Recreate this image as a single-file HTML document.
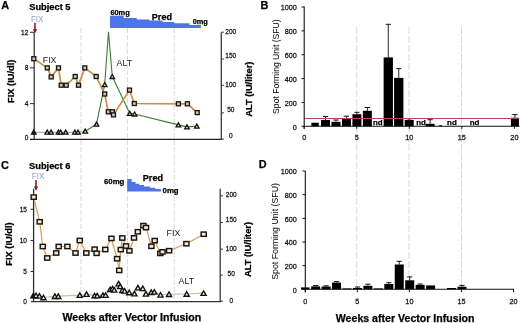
<!DOCTYPE html>
<html><head><meta charset="utf-8"><style>
html,body{margin:0;padding:0;background:#fff;}
body{width:520px;height:323px;overflow:hidden;font-family:"Liberation Sans",sans-serif;}
svg{display:block;filter:blur(0.3px);}
svg text{font-family:"Liberation Sans",sans-serif;}
</style></head><body>
<svg width="520" height="323" viewBox="0 0 520 323" font-family="Liberation Sans, sans-serif">
<rect width="520" height="323" fill="#fff"/>
<line x1="81" y1="28" x2="81" y2="301" stroke="#d9d9d9" stroke-width="1" stroke-dasharray="5,2"/>
<line x1="127.4" y1="28" x2="127.4" y2="301" stroke="#d9d9d9" stroke-width="1" stroke-dasharray="5,2"/>
<line x1="174.2" y1="28" x2="174.2" y2="301" stroke="#d9d9d9" stroke-width="1" stroke-dasharray="5,2"/>
<line x1="356.8" y1="27" x2="356.8" y2="289" stroke="#d9d9d9" stroke-width="1" stroke-dasharray="7,2"/>
<line x1="409.1" y1="27" x2="409.1" y2="289" stroke="#d9d9d9" stroke-width="1" stroke-dasharray="7,2"/>
<line x1="461.5" y1="27" x2="461.5" y2="289" stroke="#d9d9d9" stroke-width="1" stroke-dasharray="7,2"/>
<text x="1.3" y="8.9" font-size="10.9" font-weight="bold" text-anchor="start" fill="#000" stroke="#000" stroke-width="0.25" >A</text>
<text x="29.2" y="9.8" font-size="9.3" font-weight="bold" text-anchor="start" fill="#000" stroke="#000" stroke-width="0.25" >Subject 5</text>
<text x="30.9" y="21.8" font-size="8.9" font-weight="normal" text-anchor="start" fill="#8a9fd0" transform="translate(30.9,21.8) scale(0.9,1) translate(-30.9,-21.8)">FIX</text>
<path d="M110.0,27.9 L110,15.8 L123.7,15.8 L123.7,17.9 L136.7,17.9 L136.7,19.6 L149.2,19.6 L149.2,20.5 L162.5,20.5 L162.5,21.9 L174.4,21.9 L174.4,23.2 L189.5,23.2 L189.5,24.9 L200.9,24.9 L200.9,27.9 Z" fill="#4f73e8"/>
<text x="110.4" y="15.2" font-size="7.4" font-weight="bold" text-anchor="start" fill="#000" stroke="#000" stroke-width="0.25" >60mg</text>
<text x="151.8" y="20" font-size="9.1" font-weight="bold" text-anchor="start" fill="#000" stroke="#000" stroke-width="0.25" >Pred</text>
<text x="192.7" y="24.4" font-size="7.4" font-weight="bold" text-anchor="start" fill="#000" stroke="#000" stroke-width="0.25" >0mg</text>
<line x1="34.2" y1="32.2" x2="34.2" y2="139.6" stroke="#3a3a3a" stroke-width="1.3" />
<line x1="30" y1="139.4" x2="222" y2="139.4" stroke="#222" stroke-width="1.3" />
<line x1="221.3" y1="32.2" x2="221.3" y2="139.6" stroke="#3a3a3a" stroke-width="1.3" />
<line x1="30" y1="32.3" x2="34.2" y2="32.3" stroke="#3a3a3a" stroke-width="1.1" />
<text transform="translate(28.3,35.07) scale(0.84,1)" font-size="7.8" font-weight="normal" text-anchor="end" fill="#111" stroke="#111" stroke-width="0.25">12</text>
<line x1="30" y1="67.8" x2="34.2" y2="67.8" stroke="#3a3a3a" stroke-width="1.1" />
<text transform="translate(28.3,70.07) scale(0.84,1)" font-size="7.8" font-weight="normal" text-anchor="end" fill="#111" stroke="#111" stroke-width="0.25">8</text>
<line x1="30" y1="103.6" x2="34.2" y2="103.6" stroke="#3a3a3a" stroke-width="1.1" />
<text transform="translate(28.3,106.27) scale(0.84,1)" font-size="7.8" font-weight="normal" text-anchor="end" fill="#111" stroke="#111" stroke-width="0.25">4</text>
<text transform="translate(28.3,139.87) scale(0.84,1)" font-size="7.8" font-weight="normal" text-anchor="end" fill="#111" stroke="#111" stroke-width="0.25">0</text>
<line x1="221.3" y1="32.2" x2="223.8" y2="32.2" stroke="#3a3a3a" stroke-width="1.1" />
<text transform="translate(230.8,33.77) scale(0.84,1)" font-size="7.8" font-weight="normal" text-anchor="middle" fill="#111" stroke="#111" stroke-width="0.25">200</text>
<line x1="221.3" y1="59" x2="223.8" y2="59" stroke="#3a3a3a" stroke-width="1.1" />
<text transform="translate(230.8,57.97) scale(0.84,1)" font-size="7.8" font-weight="normal" text-anchor="middle" fill="#111" stroke="#111" stroke-width="0.25">150</text>
<line x1="221.3" y1="85.3" x2="223.8" y2="85.3" stroke="#3a3a3a" stroke-width="1.1" />
<text transform="translate(230.8,86.57) scale(0.84,1)" font-size="7.8" font-weight="normal" text-anchor="middle" fill="#111" stroke="#111" stroke-width="0.25">100</text>
<line x1="221.3" y1="112.8" x2="223.8" y2="112.8" stroke="#3a3a3a" stroke-width="1.1" />
<text transform="translate(230.8,111.77) scale(0.84,1)" font-size="7.8" font-weight="normal" text-anchor="middle" fill="#111" stroke="#111" stroke-width="0.25">50</text>
<line x1="221.3" y1="139.1" x2="223.8" y2="139.1" stroke="#3a3a3a" stroke-width="1.1" />
<text transform="translate(230.8,137.67) scale(0.84,1)" font-size="7.8" font-weight="normal" text-anchor="middle" fill="#111" stroke="#111" stroke-width="0.25">0</text>
<text transform="translate(14.1,81.3) rotate(-90)" x="0" y="0" font-size="9.3" font-weight="bold" text-anchor="middle" fill="#000" stroke="#000" stroke-width="0.25">FIX (IU/dl)</text>
<text transform="translate(251.6,89.2) rotate(-90)" x="0" y="0" font-size="9.3" font-weight="bold" text-anchor="middle" fill="#000" stroke="#000" stroke-width="0.25">ALT (IU/liter)</text>
<line x1="35" y1="22.8" x2="35" y2="31" stroke="#7a1626" stroke-width="1.5" />
<polygon points="32.9,29.2 37.2,29.2 35,33.2" fill="#7a1626"/>
<polyline fill="none" stroke="#8fb070" stroke-width="1.1" stroke-linejoin="round" points="33.8,132.2 47.2,132.2 51.1,132.2 58.5,132.2 60.6,132.2 65.7,132.2 74.9,132.2 78,132.2 85.2,131.2"/>
<polyline fill="none" stroke="#3f7a35" stroke-width="1.1" stroke-linejoin="round" points="85.2,131.2 96.5,124.2 104.7,84.7 108.5,32 112.3,76.5 129.8,113.4 134.6,114 178.4,124.9 187,126.9 196.8,126.2"/>
<polyline fill="none" stroke="#c98f45" stroke-width="1.7" stroke-linejoin="round" points="33.8,58.7 47.3,67.9 51.2,76.9 58.5,67.9 61.2,85.2 66.2,85.2 75.2,76.5 78.5,85.2 84.8,67.9 96.2,76.5 104.7,94 108.3,111.8 112.4,111.8 113.5,114.9 129.5,90.1 134.3,103.5 178.4,103.8 187.4,103.8 197.2,112.6"/>
<polygon points="33.8,130.18 36.1,134.22 31.5,134.22" fill="#222" stroke="#111" stroke-width="1.3" stroke-linejoin="miter"/>
<polygon points="47.2,130.18 49.5,134.22 44.9,134.22" fill="#e0ded0" stroke="#111" stroke-width="1.3" stroke-linejoin="miter"/>
<polygon points="51.1,130.18 53.4,134.22 48.8,134.22" fill="#e0ded0" stroke="#111" stroke-width="1.3" stroke-linejoin="miter"/>
<polygon points="58.5,130.18 60.8,134.22 56.2,134.22" fill="#e0ded0" stroke="#111" stroke-width="1.3" stroke-linejoin="miter"/>
<polygon points="60.6,130.18 62.9,134.22 58.3,134.22" fill="#e0ded0" stroke="#111" stroke-width="1.3" stroke-linejoin="miter"/>
<polygon points="65.7,130.18 68,134.22 63.4,134.22" fill="#e0ded0" stroke="#111" stroke-width="1.3" stroke-linejoin="miter"/>
<polygon points="74.9,130.18 77.2,134.22 72.6,134.22" fill="#e0ded0" stroke="#111" stroke-width="1.3" stroke-linejoin="miter"/>
<polygon points="78,130.18 80.3,134.22 75.7,134.22" fill="#e0ded0" stroke="#111" stroke-width="1.3" stroke-linejoin="miter"/>
<polygon points="85.2,129.18 87.5,133.22 82.9,133.22" fill="#e0ded0" stroke="#111" stroke-width="1.3" stroke-linejoin="miter"/>
<polygon points="96.5,122.18 98.8,126.22 94.2,126.22" fill="#e0ded0" stroke="#111" stroke-width="1.3" stroke-linejoin="miter"/>
<polygon points="104.7,82.68 107,86.72 102.4,86.72" fill="#e0ded0" stroke="#111" stroke-width="1.3" stroke-linejoin="miter"/>
<polygon points="112.3,74.48 114.6,78.52 110,78.52" fill="#e0ded0" stroke="#111" stroke-width="1.3" stroke-linejoin="miter"/>
<polygon points="129.8,111.38 132.1,115.42 127.5,115.42" fill="#e0ded0" stroke="#111" stroke-width="1.3" stroke-linejoin="miter"/>
<polygon points="134.6,111.98 136.9,116.02 132.3,116.02" fill="#e0ded0" stroke="#111" stroke-width="1.3" stroke-linejoin="miter"/>
<polygon points="178.4,122.88 180.7,126.92 176.1,126.92" fill="#e0ded0" stroke="#111" stroke-width="1.3" stroke-linejoin="miter"/>
<polygon points="187,124.88 189.3,128.92 184.7,128.92" fill="#e0ded0" stroke="#111" stroke-width="1.3" stroke-linejoin="miter"/>
<polygon points="196.8,124.18 199.1,128.22 194.5,128.22" fill="#e0ded0" stroke="#111" stroke-width="1.3" stroke-linejoin="miter"/>
<rect x="31.8" y="56.7" width="4" height="4" fill="#cdc2ae" stroke="#1a1410" stroke-width="1.3"/>
<rect x="45.3" y="65.9" width="4" height="4" fill="#cdc2ae" stroke="#1a1410" stroke-width="1.3"/>
<rect x="49.2" y="74.9" width="4" height="4" fill="#cdc2ae" stroke="#1a1410" stroke-width="1.3"/>
<rect x="56.5" y="65.9" width="4" height="4" fill="#cdc2ae" stroke="#1a1410" stroke-width="1.3"/>
<rect x="59.2" y="83.2" width="4" height="4" fill="#cdc2ae" stroke="#1a1410" stroke-width="1.3"/>
<rect x="64.2" y="83.2" width="4" height="4" fill="#cdc2ae" stroke="#1a1410" stroke-width="1.3"/>
<rect x="73.2" y="74.5" width="4" height="4" fill="#cdc2ae" stroke="#1a1410" stroke-width="1.3"/>
<rect x="76.5" y="83.2" width="4" height="4" fill="#cdc2ae" stroke="#1a1410" stroke-width="1.3"/>
<rect x="82.8" y="65.9" width="4" height="4" fill="#cdc2ae" stroke="#1a1410" stroke-width="1.3"/>
<rect x="94.2" y="74.5" width="4" height="4" fill="#cdc2ae" stroke="#1a1410" stroke-width="1.3"/>
<rect x="102.7" y="92" width="4" height="4" fill="#cdc2ae" stroke="#1a1410" stroke-width="1.3"/>
<rect x="106.3" y="109.8" width="4" height="4" fill="#cdc2ae" stroke="#1a1410" stroke-width="1.3"/>
<rect x="110.4" y="109.8" width="4" height="4" fill="#cdc2ae" stroke="#1a1410" stroke-width="1.3"/>
<rect x="111.5" y="112.9" width="4" height="4" fill="#cdc2ae" stroke="#1a1410" stroke-width="1.3"/>
<rect x="127.5" y="88.1" width="4" height="4" fill="#cdc2ae" stroke="#1a1410" stroke-width="1.3"/>
<rect x="132.3" y="101.5" width="4" height="4" fill="#cdc2ae" stroke="#1a1410" stroke-width="1.3"/>
<rect x="176.4" y="101.8" width="4" height="4" fill="#cdc2ae" stroke="#1a1410" stroke-width="1.3"/>
<rect x="185.4" y="101.8" width="4" height="4" fill="#cdc2ae" stroke="#1a1410" stroke-width="1.3"/>
<rect x="195.2" y="110.6" width="4" height="4" fill="#cdc2ae" stroke="#1a1410" stroke-width="1.3"/>
<text x="42.8" y="63.4" font-size="8.8" font-weight="normal" text-anchor="start" fill="#1a1a1a" >FIX</text>
<text x="116.6" y="65.5" font-size="8.8" font-weight="normal" text-anchor="start" fill="#1a1a1a" >ALT</text>
<text x="0.9" y="168.6" font-size="10.9" font-weight="bold" text-anchor="start" fill="#000" stroke="#000" stroke-width="0.25" >C</text>
<text x="29" y="169" font-size="9.3" font-weight="bold" text-anchor="start" fill="#000" stroke="#000" stroke-width="0.25" >Subject 6</text>
<text x="31.8" y="179.3" font-size="8.9" font-weight="normal" text-anchor="start" fill="#8a9fd0" transform="translate(31.8,179.3) scale(0.9,1) translate(-31.8,-179.3)">FIX</text>
<path d="M127.2,191.6 L127.2,178.9 L131.7,178.9 L131.7,182 L135.5,182 L135.5,183.8 L139.3,183.8 L139.3,185.1 L144,185.1 L144,186.4 L149.9,186.4 L149.9,187.7 L155.4,187.7 L155.4,188.9 L160.9,188.9 L160.9,191.6 Z" fill="#4f73e8"/>
<text x="104" y="183.8" font-size="7.8" font-weight="bold" text-anchor="start" fill="#000" stroke="#000" stroke-width="0.25" >60mg</text>
<text x="142.8" y="180.9" font-size="9.1" font-weight="bold" text-anchor="start" fill="#000" stroke="#000" stroke-width="0.25" >Pred</text>
<text x="162.6" y="192.8" font-size="7.8" font-weight="bold" text-anchor="start" fill="#000" stroke="#000" stroke-width="0.25" >0mg</text>
<line x1="33.6" y1="188.8" x2="33.6" y2="301.9" stroke="#2a2a3a" stroke-width="1.3" />
<line x1="31" y1="301.6" x2="221" y2="301.6" stroke="#333" stroke-width="1.3" />
<line x1="220.2" y1="188.8" x2="220.2" y2="301.9" stroke="#3a3a3a" stroke-width="1.3" />
<line x1="30.6" y1="209.3" x2="33.6" y2="209.3" stroke="#2a2a3a" stroke-width="1.1" />
<text transform="translate(27,211.77) scale(0.84,1)" font-size="7.8" font-weight="normal" text-anchor="end" fill="#111" stroke="#111" stroke-width="0.25">15</text>
<line x1="30.6" y1="240.5" x2="33.6" y2="240.5" stroke="#2a2a3a" stroke-width="1.1" />
<text transform="translate(27,243.17) scale(0.84,1)" font-size="7.8" font-weight="normal" text-anchor="end" fill="#111" stroke="#111" stroke-width="0.25">10</text>
<line x1="30.6" y1="271.5" x2="33.6" y2="271.5" stroke="#2a2a3a" stroke-width="1.1" />
<text transform="translate(27,274.27) scale(0.84,1)" font-size="7.8" font-weight="normal" text-anchor="end" fill="#111" stroke="#111" stroke-width="0.25">5</text>
<text transform="translate(27,303.67) scale(0.84,1)" font-size="7.8" font-weight="normal" text-anchor="end" fill="#111" stroke="#111" stroke-width="0.25">0</text>
<line x1="220.2" y1="195.8" x2="222.8" y2="195.8" stroke="#3a3a3a" stroke-width="1.1" />
<text transform="translate(231.2,197.37) scale(0.84,1)" font-size="7.8" font-weight="normal" text-anchor="middle" fill="#111" stroke="#111" stroke-width="0.25">200</text>
<line x1="220.2" y1="222.5" x2="222.8" y2="222.5" stroke="#3a3a3a" stroke-width="1.1" />
<text transform="translate(231.2,222.37) scale(0.84,1)" font-size="7.8" font-weight="normal" text-anchor="middle" fill="#111" stroke="#111" stroke-width="0.25">150</text>
<line x1="220.2" y1="249.2" x2="222.8" y2="249.2" stroke="#3a3a3a" stroke-width="1.1" />
<text transform="translate(231.2,250.97) scale(0.84,1)" font-size="7.8" font-weight="normal" text-anchor="middle" fill="#111" stroke="#111" stroke-width="0.25">100</text>
<line x1="220.2" y1="275.1" x2="222.8" y2="275.1" stroke="#3a3a3a" stroke-width="1.1" />
<text transform="translate(231.2,275.77) scale(0.84,1)" font-size="7.8" font-weight="normal" text-anchor="middle" fill="#111" stroke="#111" stroke-width="0.25">50</text>
<line x1="220.2" y1="301.2" x2="222.8" y2="301.2" stroke="#3a3a3a" stroke-width="1.1" />
<text transform="translate(231.2,302.97) scale(0.84,1)" font-size="7.8" font-weight="normal" text-anchor="middle" fill="#111" stroke="#111" stroke-width="0.25">0</text>
<text transform="translate(12.4,244) rotate(-90)" x="0" y="0" font-size="9.3" font-weight="bold" text-anchor="middle" fill="#000" stroke="#000" stroke-width="0.25">FIX (IU/dl)</text>
<text transform="translate(251.4,249.5) rotate(-90)" x="0" y="0" font-size="9.3" font-weight="bold" text-anchor="middle" fill="#000" stroke="#000" stroke-width="0.25">ALT (IU/liter)</text>
<line x1="36" y1="180" x2="36" y2="188.5" stroke="#7a1626" stroke-width="1.5" />
<polygon points="33.9,186.6 38.1,186.6 36,191" fill="#7a1626"/>
<polyline fill="none" stroke="#b4cc98" stroke-width="1.2" stroke-linejoin="round" points="33.4,295.5 36.1,295.5 39.4,295.9 43.5,297.5 54.9,296.2 58.3,296.2 79.8,295.1 86.5,294.1 94.6,295.6 97.2,295.6 102.9,295.1 105.6,295.1 110.2,289.4 112.5,288.7 114.2,289.8 118.6,283.6 120.2,286.4 122.3,290.2 124.6,290.8 129.2,292.5 134.4,293.6 137.9,287.6 142.8,288.4 145.9,293.8 151.2,292.2 154.3,291.9 160.5,294.8 169,294.2 186.7,294 203.6,293.1"/>
<polyline fill="none" stroke="#d6a050" stroke-width="1.2" stroke-linejoin="round" points="33.7,197.1 39.7,221.8 42.8,246.5 47.2,258 56.2,253 58.7,246.5 67.4,246.5 75.5,253 79.8,240.5 86.3,253 94.6,249.2 96.6,253.3 105.3,249.5 111.4,238.4 117.1,258.7 119.2,270.4 120.8,249.6 122.3,238 126,246 129.4,250.8 134,237.9 137.8,231.8 143.4,225.6 146,227.6 151.4,246.3 154.7,240.6 160.3,253.4 162.5,251.9 169.1,250.7 186.4,243.7 203.7,234.2"/>
<polygon points="33.4,293.21 36,297.79 30.8,297.79" fill="#222" stroke="#111" stroke-width="1.35" stroke-linejoin="miter"/>
<polygon points="36.1,293.21 38.7,297.79 33.5,297.79" fill="#eceadf" stroke="#111" stroke-width="1.35" stroke-linejoin="miter"/>
<polygon points="39.4,293.61 42,298.19 36.8,298.19" fill="#eceadf" stroke="#111" stroke-width="1.35" stroke-linejoin="miter"/>
<polygon points="43.5,295.21 46.1,299.79 40.9,299.79" fill="#eceadf" stroke="#111" stroke-width="1.35" stroke-linejoin="miter"/>
<polygon points="54.9,293.91 57.5,298.49 52.3,298.49" fill="#eceadf" stroke="#111" stroke-width="1.35" stroke-linejoin="miter"/>
<polygon points="58.3,293.91 60.9,298.49 55.7,298.49" fill="#eceadf" stroke="#111" stroke-width="1.35" stroke-linejoin="miter"/>
<polygon points="79.8,292.81 82.4,297.39 77.2,297.39" fill="#eceadf" stroke="#111" stroke-width="1.35" stroke-linejoin="miter"/>
<polygon points="86.5,291.81 89.1,296.39 83.9,296.39" fill="#eceadf" stroke="#111" stroke-width="1.35" stroke-linejoin="miter"/>
<polygon points="94.6,293.31 97.2,297.89 92,297.89" fill="#eceadf" stroke="#111" stroke-width="1.35" stroke-linejoin="miter"/>
<polygon points="97.2,293.31 99.8,297.89 94.6,297.89" fill="#eceadf" stroke="#111" stroke-width="1.35" stroke-linejoin="miter"/>
<polygon points="102.9,292.81 105.5,297.39 100.3,297.39" fill="#eceadf" stroke="#111" stroke-width="1.35" stroke-linejoin="miter"/>
<polygon points="105.6,292.81 108.2,297.39 103,297.39" fill="#eceadf" stroke="#111" stroke-width="1.35" stroke-linejoin="miter"/>
<polygon points="110.2,287.11 112.8,291.69 107.6,291.69" fill="#eceadf" stroke="#111" stroke-width="1.35" stroke-linejoin="miter"/>
<polygon points="112.5,286.41 115.1,290.99 109.9,290.99" fill="#eceadf" stroke="#111" stroke-width="1.35" stroke-linejoin="miter"/>
<polygon points="114.2,287.51 116.8,292.09 111.6,292.09" fill="#eceadf" stroke="#111" stroke-width="1.35" stroke-linejoin="miter"/>
<polygon points="118.6,281.31 121.2,285.89 116,285.89" fill="#eceadf" stroke="#111" stroke-width="1.35" stroke-linejoin="miter"/>
<polygon points="120.2,284.11 122.8,288.69 117.6,288.69" fill="#eceadf" stroke="#111" stroke-width="1.35" stroke-linejoin="miter"/>
<polygon points="122.3,287.91 124.9,292.49 119.7,292.49" fill="#eceadf" stroke="#111" stroke-width="1.35" stroke-linejoin="miter"/>
<polygon points="124.6,288.51 127.2,293.09 122,293.09" fill="#eceadf" stroke="#111" stroke-width="1.35" stroke-linejoin="miter"/>
<polygon points="129.2,290.21 131.8,294.79 126.6,294.79" fill="#eceadf" stroke="#111" stroke-width="1.35" stroke-linejoin="miter"/>
<polygon points="134.4,291.31 137,295.89 131.8,295.89" fill="#eceadf" stroke="#111" stroke-width="1.35" stroke-linejoin="miter"/>
<polygon points="137.9,285.31 140.5,289.89 135.3,289.89" fill="#eceadf" stroke="#111" stroke-width="1.35" stroke-linejoin="miter"/>
<polygon points="142.8,286.11 145.4,290.69 140.2,290.69" fill="#eceadf" stroke="#111" stroke-width="1.35" stroke-linejoin="miter"/>
<polygon points="145.9,291.51 148.5,296.09 143.3,296.09" fill="#eceadf" stroke="#111" stroke-width="1.35" stroke-linejoin="miter"/>
<polygon points="151.2,289.91 153.8,294.49 148.6,294.49" fill="#eceadf" stroke="#111" stroke-width="1.35" stroke-linejoin="miter"/>
<polygon points="154.3,289.61 156.9,294.19 151.7,294.19" fill="#eceadf" stroke="#111" stroke-width="1.35" stroke-linejoin="miter"/>
<polygon points="160.5,292.51 163.1,297.09 157.9,297.09" fill="#eceadf" stroke="#111" stroke-width="1.35" stroke-linejoin="miter"/>
<polygon points="169,291.91 171.6,296.49 166.4,296.49" fill="#eceadf" stroke="#111" stroke-width="1.35" stroke-linejoin="miter"/>
<polygon points="186.7,291.71 189.3,296.29 184.1,296.29" fill="#eceadf" stroke="#111" stroke-width="1.35" stroke-linejoin="miter"/>
<polygon points="203.6,290.81 206.2,295.39 201,295.39" fill="#eceadf" stroke="#111" stroke-width="1.35" stroke-linejoin="miter"/>
<rect x="31.15" y="194.95" width="5.1" height="4.3" fill="#f0ebe0" stroke="#1a1410" stroke-width="1.45"/>
<rect x="37.15" y="219.65" width="5.1" height="4.3" fill="#f0ebe0" stroke="#1a1410" stroke-width="1.45"/>
<rect x="40.25" y="244.35" width="5.1" height="4.3" fill="#f0ebe0" stroke="#1a1410" stroke-width="1.45"/>
<rect x="44.65" y="255.85" width="5.1" height="4.3" fill="#f0ebe0" stroke="#1a1410" stroke-width="1.45"/>
<rect x="53.65" y="250.85" width="5.1" height="4.3" fill="#f0ebe0" stroke="#1a1410" stroke-width="1.45"/>
<rect x="56.15" y="244.35" width="5.1" height="4.3" fill="#f0ebe0" stroke="#1a1410" stroke-width="1.45"/>
<rect x="64.85" y="244.35" width="5.1" height="4.3" fill="#f0ebe0" stroke="#1a1410" stroke-width="1.45"/>
<rect x="72.95" y="250.85" width="5.1" height="4.3" fill="#f0ebe0" stroke="#1a1410" stroke-width="1.45"/>
<rect x="77.25" y="238.35" width="5.1" height="4.3" fill="#f0ebe0" stroke="#1a1410" stroke-width="1.45"/>
<rect x="83.75" y="250.85" width="5.1" height="4.3" fill="#f0ebe0" stroke="#1a1410" stroke-width="1.45"/>
<rect x="92.05" y="247.05" width="5.1" height="4.3" fill="#f0ebe0" stroke="#1a1410" stroke-width="1.45"/>
<rect x="94.05" y="251.15" width="5.1" height="4.3" fill="#f0ebe0" stroke="#1a1410" stroke-width="1.45"/>
<rect x="102.75" y="247.35" width="5.1" height="4.3" fill="#f0ebe0" stroke="#1a1410" stroke-width="1.45"/>
<rect x="108.85" y="236.25" width="5.1" height="4.3" fill="#f0ebe0" stroke="#1a1410" stroke-width="1.45"/>
<rect x="114.55" y="256.55" width="5.1" height="4.3" fill="#f0ebe0" stroke="#1a1410" stroke-width="1.45"/>
<rect x="116.65" y="268.25" width="5.1" height="4.3" fill="#f0ebe0" stroke="#1a1410" stroke-width="1.45"/>
<rect x="118.25" y="247.45" width="5.1" height="4.3" fill="#f0ebe0" stroke="#1a1410" stroke-width="1.45"/>
<rect x="119.75" y="235.85" width="5.1" height="4.3" fill="#f0ebe0" stroke="#1a1410" stroke-width="1.45"/>
<rect x="123.45" y="243.85" width="5.1" height="4.3" fill="#f0ebe0" stroke="#1a1410" stroke-width="1.45"/>
<rect x="126.85" y="248.65" width="5.1" height="4.3" fill="#f0ebe0" stroke="#1a1410" stroke-width="1.45"/>
<rect x="131.45" y="235.75" width="5.1" height="4.3" fill="#f0ebe0" stroke="#1a1410" stroke-width="1.45"/>
<rect x="135.25" y="229.65" width="5.1" height="4.3" fill="#f0ebe0" stroke="#1a1410" stroke-width="1.45"/>
<rect x="140.85" y="223.45" width="5.1" height="4.3" fill="#f0ebe0" stroke="#1a1410" stroke-width="1.45"/>
<rect x="143.45" y="225.45" width="5.1" height="4.3" fill="#f0ebe0" stroke="#1a1410" stroke-width="1.45"/>
<rect x="148.85" y="244.15" width="5.1" height="4.3" fill="#f0ebe0" stroke="#1a1410" stroke-width="1.45"/>
<rect x="152.15" y="238.45" width="5.1" height="4.3" fill="#f0ebe0" stroke="#1a1410" stroke-width="1.45"/>
<rect x="157.75" y="251.25" width="5.1" height="4.3" fill="#f0ebe0" stroke="#1a1410" stroke-width="1.45"/>
<rect x="159.95" y="249.75" width="5.1" height="4.3" fill="#f0ebe0" stroke="#1a1410" stroke-width="1.45"/>
<rect x="166.55" y="248.55" width="5.1" height="4.3" fill="#f0ebe0" stroke="#1a1410" stroke-width="1.45"/>
<rect x="183.85" y="241.55" width="5.1" height="4.3" fill="#f0ebe0" stroke="#1a1410" stroke-width="1.45"/>
<rect x="201.15" y="232.05" width="5.1" height="4.3" fill="#f0ebe0" stroke="#1a1410" stroke-width="1.45"/>
<text x="166.6" y="236" font-size="8.8" font-weight="normal" text-anchor="start" fill="#1a1a1a" >FIX</text>
<text x="178.6" y="283.8" font-size="8.8" font-weight="normal" text-anchor="start" fill="#1a1a1a" >ALT</text>
<text x="62.5" y="321.4" font-size="10.6" font-weight="bold" text-anchor="start" fill="#000" stroke="#000" stroke-width="0.25" >Weeks after Vector Infusion</text>
<text x="260.4" y="8.9" font-size="10.9" font-weight="bold" text-anchor="start" fill="#000" stroke="#000" stroke-width="0.25" >B</text>
<rect x="311.36" y="122.7" width="7.4" height="3.6" fill="#000"/>
<line x1="325.52" y1="116.5" x2="325.52" y2="120" stroke="#111" stroke-width="0.9" />
<line x1="322.92" y1="116.5" x2="328.12" y2="116.5" stroke="#111" stroke-width="1" />
<rect x="321.02" y="120" width="9" height="6.3" fill="#000"/>
<line x1="335.98" y1="120" x2="335.98" y2="121.8" stroke="#111" stroke-width="0.9" />
<line x1="333.38" y1="120" x2="338.58" y2="120" stroke="#111" stroke-width="1" />
<rect x="331.48" y="121.8" width="9" height="4.5" fill="#000"/>
<line x1="346.44" y1="116.2" x2="346.44" y2="118.5" stroke="#111" stroke-width="0.9" />
<line x1="343.84" y1="116.2" x2="349.04" y2="116.2" stroke="#111" stroke-width="1" />
<rect x="341.94" y="118.5" width="9" height="7.8" fill="#000"/>
<line x1="356.9" y1="112.3" x2="356.9" y2="114.2" stroke="#111" stroke-width="0.9" />
<line x1="354.3" y1="112.3" x2="359.5" y2="112.3" stroke="#111" stroke-width="1" />
<rect x="352.4" y="114.2" width="9" height="12.1" fill="#000"/>
<line x1="367.36" y1="107.5" x2="367.36" y2="110.8" stroke="#111" stroke-width="0.9" />
<line x1="364.76" y1="107.5" x2="369.96" y2="107.5" stroke="#111" stroke-width="1" />
<rect x="362.86" y="110.8" width="9" height="15.5" fill="#000"/>
<line x1="388.28" y1="24.3" x2="388.28" y2="57.4" stroke="#111" stroke-width="0.9" />
<line x1="385.68" y1="24.3" x2="390.88" y2="24.3" stroke="#111" stroke-width="1" />
<rect x="383.63" y="57.4" width="9.3" height="68.9" fill="#000"/>
<line x1="398.74" y1="68.6" x2="398.74" y2="77.9" stroke="#111" stroke-width="0.9" />
<line x1="396.14" y1="68.6" x2="401.34" y2="68.6" stroke="#111" stroke-width="1" />
<rect x="394.09" y="77.9" width="9.3" height="48.4" fill="#000"/>
<line x1="409.2" y1="118.8" x2="409.2" y2="120" stroke="#111" stroke-width="0.9" />
<line x1="406.6" y1="118.8" x2="411.8" y2="118.8" stroke="#111" stroke-width="1" />
<rect x="404.7" y="120" width="9" height="6.3" fill="#000"/>
<line x1="430.12" y1="119.7" x2="430.12" y2="123.8" stroke="#111" stroke-width="0.9" />
<line x1="427.52" y1="119.7" x2="432.72" y2="119.7" stroke="#111" stroke-width="1" />
<rect x="425.62" y="123.8" width="9" height="2.5" fill="#000"/>
<rect x="439.33" y="125.2" width="2.5" height="1.1" fill="#000"/>
<line x1="514.9" y1="114.6" x2="514.9" y2="117.7" stroke="#111" stroke-width="0.9" />
<line x1="512.3" y1="114.6" x2="517.5" y2="114.6" stroke="#111" stroke-width="1" />
<rect x="510.9" y="117.7" width="8" height="8.6" fill="#000"/>
<line x1="304.2" y1="118.5" x2="519.5" y2="118.5" stroke="#b04a55" stroke-width="1.2" />
<text x="377.7" y="125.4" font-size="7.9" font-weight="bold" text-anchor="middle" fill="#000" stroke="#000" stroke-width="0.25" >nd</text>
<text x="421" y="125.4" font-size="7.9" font-weight="bold" text-anchor="middle" fill="#000" stroke="#000" stroke-width="0.25" >nd</text>
<text x="451.9" y="125.4" font-size="7.9" font-weight="bold" text-anchor="middle" fill="#000" stroke="#000" stroke-width="0.25" >nd</text>
<text x="474.6" y="125.4" font-size="7.9" font-weight="bold" text-anchor="middle" fill="#000" stroke="#000" stroke-width="0.25" >nd</text>
<line x1="304.2" y1="6.5" x2="304.2" y2="128.8" stroke="#111" stroke-width="1.1" />
<line x1="303.7" y1="126.3" x2="519.5" y2="126.3" stroke="#111" stroke-width="1.1" />
<line x1="301.5" y1="126.3" x2="304.2" y2="126.3" stroke="#111" stroke-width="1" />
<text transform="translate(296.9,129.7) scale(0.92,1)" font-size="7.9" font-weight="normal" text-anchor="end" fill="#111" stroke="#111" stroke-width="0.25">0</text>
<line x1="301.5" y1="102.44" x2="304.2" y2="102.44" stroke="#111" stroke-width="1" />
<text transform="translate(296.9,105.84) scale(0.92,1)" font-size="7.9" font-weight="normal" text-anchor="end" fill="#111" stroke="#111" stroke-width="0.25">200</text>
<line x1="301.5" y1="78.58" x2="304.2" y2="78.58" stroke="#111" stroke-width="1" />
<text transform="translate(296.9,81.98) scale(0.92,1)" font-size="7.9" font-weight="normal" text-anchor="end" fill="#111" stroke="#111" stroke-width="0.25">400</text>
<line x1="301.5" y1="54.72" x2="304.2" y2="54.72" stroke="#111" stroke-width="1" />
<text transform="translate(296.9,58.12) scale(0.92,1)" font-size="7.9" font-weight="normal" text-anchor="end" fill="#111" stroke="#111" stroke-width="0.25">600</text>
<line x1="301.5" y1="30.86" x2="304.2" y2="30.86" stroke="#111" stroke-width="1" />
<text transform="translate(296.9,34.26) scale(0.92,1)" font-size="7.9" font-weight="normal" text-anchor="end" fill="#111" stroke="#111" stroke-width="0.25">800</text>
<line x1="301.5" y1="7" x2="304.2" y2="7" stroke="#111" stroke-width="1" />
<text transform="translate(296.9,10.4) scale(0.92,1)" font-size="7.9" font-weight="normal" text-anchor="end" fill="#111" stroke="#111" stroke-width="0.25">1000</text>
<line x1="304.2" y1="126.3" x2="304.2" y2="128.8" stroke="#111" stroke-width="1" />
<text transform="translate(304.2,139.8) scale(0.92,1)" font-size="7.9" font-weight="normal" text-anchor="middle" fill="#111" stroke="#111" stroke-width="0.25">0</text>
<line x1="356.75" y1="126.3" x2="356.75" y2="128.8" stroke="#111" stroke-width="1" />
<text transform="translate(356.75,139.8) scale(0.92,1)" font-size="7.9" font-weight="normal" text-anchor="middle" fill="#111" stroke="#111" stroke-width="0.25">5</text>
<line x1="409.3" y1="126.3" x2="409.3" y2="128.8" stroke="#111" stroke-width="1" />
<text transform="translate(409.3,139.8) scale(0.92,1)" font-size="7.9" font-weight="normal" text-anchor="middle" fill="#111" stroke="#111" stroke-width="0.25">10</text>
<line x1="461.85" y1="126.3" x2="461.85" y2="128.8" stroke="#111" stroke-width="1" />
<text transform="translate(461.85,139.8) scale(0.92,1)" font-size="7.9" font-weight="normal" text-anchor="middle" fill="#111" stroke="#111" stroke-width="0.25">15</text>
<line x1="514.4" y1="126.3" x2="514.4" y2="128.8" stroke="#111" stroke-width="1" />
<text transform="translate(514.4,139.8) scale(0.92,1)" font-size="7.9" font-weight="normal" text-anchor="middle" fill="#111" stroke="#111" stroke-width="0.25">20</text>
<text transform="translate(279.4,66.6) rotate(-90)" x="0" y="0" font-size="8.6" font-weight="normal" text-anchor="middle" fill="#000">Spot Forming Unit (SFU)</text>
<text x="258.8" y="167.8" font-size="10.9" font-weight="bold" text-anchor="start" fill="#000" stroke="#000" stroke-width="0.25" >D</text>
<rect x="301" y="287.4" width="8.4" height="1.9" fill="#000"/>
<line x1="315.65" y1="285.5" x2="315.65" y2="286.4" stroke="#111" stroke-width="0.9" />
<line x1="313.05" y1="285.5" x2="318.25" y2="285.5" stroke="#111" stroke-width="1" />
<rect x="311.15" y="286.4" width="9" height="2.9" fill="#000"/>
<line x1="326.1" y1="285.8" x2="326.1" y2="286.5" stroke="#111" stroke-width="0.9" />
<line x1="323.5" y1="285.8" x2="328.7" y2="285.8" stroke="#111" stroke-width="1" />
<rect x="321.6" y="286.5" width="9" height="2.8" fill="#000"/>
<line x1="336.55" y1="281.6" x2="336.55" y2="282.6" stroke="#111" stroke-width="0.9" />
<line x1="333.95" y1="281.6" x2="339.15" y2="281.6" stroke="#111" stroke-width="1" />
<rect x="332.05" y="282.6" width="9" height="6.7" fill="#000"/>
<rect x="342.5" y="288.4" width="9" height="0.9" fill="#000"/>
<line x1="357.45" y1="287" x2="357.45" y2="288" stroke="#111" stroke-width="0.9" />
<line x1="354.85" y1="287" x2="360.05" y2="287" stroke="#111" stroke-width="1" />
<rect x="352.95" y="288" width="9" height="1.3" fill="#000"/>
<line x1="367.9" y1="284.2" x2="367.9" y2="285.8" stroke="#111" stroke-width="0.9" />
<line x1="365.3" y1="284.2" x2="370.5" y2="284.2" stroke="#111" stroke-width="1" />
<rect x="363.4" y="285.8" width="9" height="3.5" fill="#000"/>
<rect x="373.85" y="288.4" width="9" height="0.9" fill="#000"/>
<line x1="388.8" y1="282.7" x2="388.8" y2="284" stroke="#111" stroke-width="0.9" />
<line x1="386.2" y1="282.7" x2="391.4" y2="282.7" stroke="#111" stroke-width="1" />
<rect x="384.3" y="284" width="9" height="5.3" fill="#000"/>
<line x1="399.25" y1="261.3" x2="399.25" y2="264.5" stroke="#111" stroke-width="0.9" />
<line x1="396.65" y1="261.3" x2="401.85" y2="261.3" stroke="#111" stroke-width="1" />
<rect x="394.75" y="264.5" width="9" height="24.8" fill="#000"/>
<line x1="409.7" y1="276.9" x2="409.7" y2="280.3" stroke="#111" stroke-width="0.9" />
<line x1="407.1" y1="276.9" x2="412.3" y2="276.9" stroke="#111" stroke-width="1" />
<rect x="405.2" y="280.3" width="9" height="9" fill="#000"/>
<line x1="420.15" y1="284" x2="420.15" y2="284.9" stroke="#111" stroke-width="0.9" />
<line x1="417.55" y1="284" x2="422.75" y2="284" stroke="#111" stroke-width="1" />
<rect x="415.65" y="284.9" width="9" height="4.4" fill="#000"/>
<rect x="426.1" y="285.4" width="9" height="3.9" fill="#000"/>
<rect x="447" y="288" width="9" height="1.3" fill="#000"/>
<line x1="461.95" y1="285.4" x2="461.95" y2="286.7" stroke="#111" stroke-width="0.9" />
<line x1="459.35" y1="285.4" x2="464.55" y2="285.4" stroke="#111" stroke-width="1" />
<rect x="457.45" y="286.7" width="9" height="2.6" fill="#000"/>
<line x1="305.3" y1="171" x2="305.3" y2="292.2" stroke="#111" stroke-width="1.1" />
<line x1="301.2" y1="289.3" x2="514" y2="289.3" stroke="#111" stroke-width="1.1" />
<line x1="302.4" y1="289.3" x2="305.3" y2="289.3" stroke="#111" stroke-width="1" />
<text transform="translate(296.9,292.7) scale(0.92,1)" font-size="7.9" font-weight="normal" text-anchor="end" fill="#111" stroke="#111" stroke-width="0.25">0</text>
<line x1="302.4" y1="265.64" x2="305.3" y2="265.64" stroke="#111" stroke-width="1" />
<text transform="translate(296.9,269.04) scale(0.92,1)" font-size="7.9" font-weight="normal" text-anchor="end" fill="#111" stroke="#111" stroke-width="0.25">200</text>
<line x1="302.4" y1="241.98" x2="305.3" y2="241.98" stroke="#111" stroke-width="1" />
<text transform="translate(296.9,245.38) scale(0.92,1)" font-size="7.9" font-weight="normal" text-anchor="end" fill="#111" stroke="#111" stroke-width="0.25">400</text>
<line x1="302.4" y1="218.32" x2="305.3" y2="218.32" stroke="#111" stroke-width="1" />
<text transform="translate(296.9,221.72) scale(0.92,1)" font-size="7.9" font-weight="normal" text-anchor="end" fill="#111" stroke="#111" stroke-width="0.25">600</text>
<line x1="302.4" y1="194.66" x2="305.3" y2="194.66" stroke="#111" stroke-width="1" />
<text transform="translate(296.9,198.06) scale(0.92,1)" font-size="7.9" font-weight="normal" text-anchor="end" fill="#111" stroke="#111" stroke-width="0.25">800</text>
<line x1="302.4" y1="171" x2="305.3" y2="171" stroke="#111" stroke-width="1" />
<text transform="translate(296.9,174.4) scale(0.92,1)" font-size="7.9" font-weight="normal" text-anchor="end" fill="#111" stroke="#111" stroke-width="0.25">1000</text>
<line x1="305.3" y1="289.3" x2="305.3" y2="292.2" stroke="#111" stroke-width="1" />
<text transform="translate(305.3,303.6) scale(0.92,1)" font-size="7.9" font-weight="normal" text-anchor="middle" fill="#111" stroke="#111" stroke-width="0.25">0</text>
<line x1="357.35" y1="289.3" x2="357.35" y2="292.2" stroke="#111" stroke-width="1" />
<text transform="translate(357.35,303.6) scale(0.92,1)" font-size="7.9" font-weight="normal" text-anchor="middle" fill="#111" stroke="#111" stroke-width="0.25">5</text>
<line x1="409.4" y1="289.3" x2="409.4" y2="292.2" stroke="#111" stroke-width="1" />
<text transform="translate(409.4,303.6) scale(0.92,1)" font-size="7.9" font-weight="normal" text-anchor="middle" fill="#111" stroke="#111" stroke-width="0.25">10</text>
<line x1="461.45" y1="289.3" x2="461.45" y2="292.2" stroke="#111" stroke-width="1" />
<text transform="translate(461.45,303.6) scale(0.92,1)" font-size="7.9" font-weight="normal" text-anchor="middle" fill="#111" stroke="#111" stroke-width="0.25">15</text>
<line x1="513.5" y1="289.3" x2="513.5" y2="292.2" stroke="#111" stroke-width="1" />
<text transform="translate(513.5,303.6) scale(0.92,1)" font-size="7.9" font-weight="normal" text-anchor="middle" fill="#111" stroke="#111" stroke-width="0.25">20</text>
<text transform="translate(278.4,231.4) rotate(-90)" x="0" y="0" font-size="8.8" font-weight="normal" text-anchor="middle" fill="#000">Spot Forming Unit (SFU)</text>
<text x="335.8" y="321.6" font-size="10.6" font-weight="bold" text-anchor="start" fill="#000" stroke="#000" stroke-width="0.25" >Weeks after Vector Infusion</text>
</svg>
</body></html>
